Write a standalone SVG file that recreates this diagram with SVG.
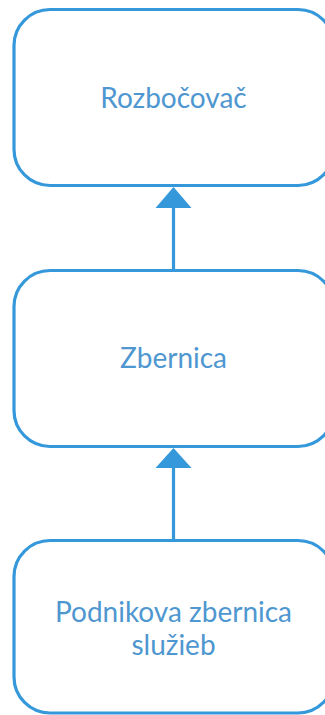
<svg xmlns="http://www.w3.org/2000/svg" width="325" height="715" viewBox="0 0 325 715">
  <style>
    .node rect { fill: #ffffff; stroke: #3498db; stroke-width: 3.2; }
    .node text { font-family: Lato, "Open Sans", sans-serif; font-size: 28px; fill: #4f97d0; text-anchor: middle; }
    .edge line { stroke: #3498db; stroke-width: 3.2; }
    .edge polygon { fill: #3498db; }
  </style>
  <rect width="325" height="715" fill="#ffffff"/>
  <g id="node-rozbocovac" class="node">
    <rect x="14" y="9.5" width="320" height="176" rx="36" ry="36"/>
    <text x="173.5" y="108">Rozbočovač</text>
  </g>
  <g id="node-zbernica" class="node">
    <rect x="14" y="270.5" width="320" height="176" rx="36" ry="36"/>
    <text x="173.5" y="368">Zbernica</text>
  </g>
  <g id="node-podnikova-zbernica" class="node">
    <rect x="14" y="540.5" width="320" height="172.5" rx="36" ry="36"/>
    <text x="173.5" y="622">Podnikova zbernica</text>
    <text x="173.5" y="655">služieb</text>
  </g>
  <g id="connectors">
    <g class="edge">
      <line x1="173.5" y1="270" x2="173.5" y2="205"/>
      <polygon points="173.5,187 191.5,208 155.5,208"/>
    </g>
    <g class="edge">
      <line x1="173.5" y1="540" x2="173.5" y2="465"/>
      <polygon points="173.5,448 191.5,468 155.5,468"/>
    </g>
  </g>
</svg>
